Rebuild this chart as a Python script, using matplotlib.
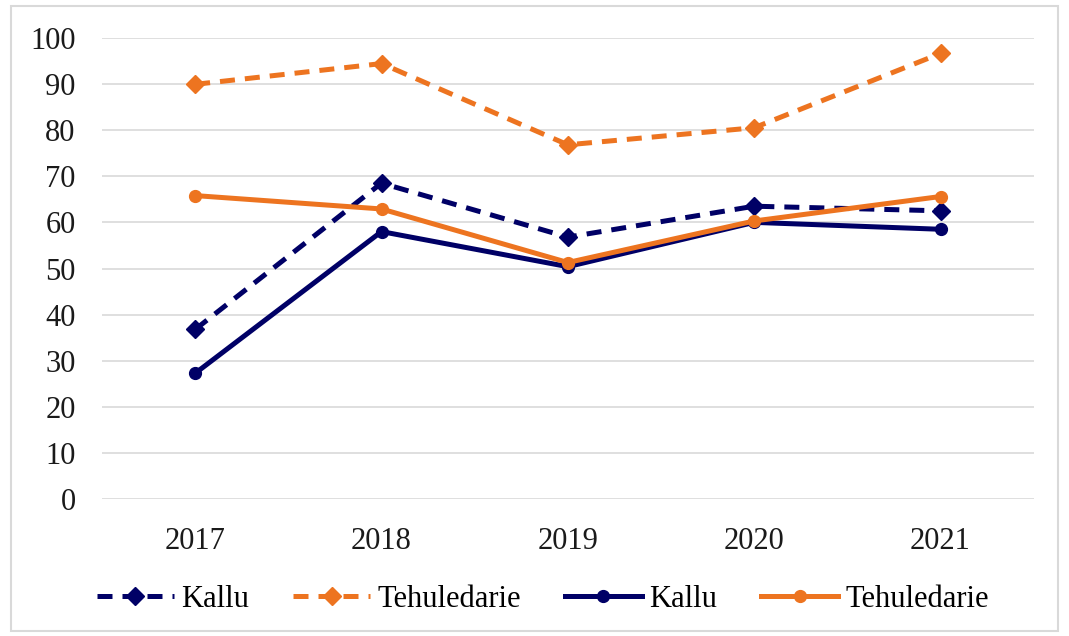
import matplotlib
matplotlib.use("Agg")
import matplotlib.pyplot as plt
from matplotlib.patches import Rectangle

# Data
years = ["2017", "2018", "2019", "2020", "2021"]
kallu_dashed = [36.8, 68.5, 56.8, 63.5, 62.5]
tehul_dashed = [89.9, 94.4, 76.8, 80.5, 96.6]
kallu_solid = [27.3, 58.0, 50.4, 60.0, 58.5]
tehul_solid = [65.8, 62.9, 51.3, 60.3, 65.6]
series_names = ["Kallu", "Tehuledarie", "Kallu", "Tehuledarie"]
y_ticks = list(range(0, 101, 10))

NAVY = "#000066"
ORANGE = "#ED7420"
FS = 22

plt.rcParams["font.family"] = ["Liberation Serif", "DejaVu Serif"]

fig = plt.figure(figsize=(10.69, 6.36), dpi=100)
ax = fig.add_axes([0.0954, 0.2149, 0.8716, 0.7258])

x = range(len(years))
dash = (3, 2)
lw = 3.6
ax.plot(x, kallu_dashed, color=NAVY, lw=lw, ls=(0, dash), marker="D", ms=9,
        label=series_names[0])
ax.plot(x, tehul_dashed, color=ORANGE, lw=lw, ls=(0, dash), marker="D", ms=9,
        label=series_names[1])
ax.plot(x, kallu_solid, color=NAVY, lw=lw, marker="o", ms=8.5, label=series_names[2])
ax.plot(x, tehul_solid, color=ORANGE, lw=lw, marker="o", ms=8.5, label=series_names[3])

ax.set_xlim(-0.5, len(years) - 0.5)
ax.set_ylim(0, 100)
ax.set_xticks(list(x))
ax.set_xticklabels(years)
ax.set_yticks(y_ticks)
ax.tick_params(axis="both", length=0, labelsize=FS, colors="#1a1a1a")
ax.tick_params(axis="x", pad=20)
ax.tick_params(axis="y", pad=19)
ax.yaxis.grid(True, color="#d9d9d9", lw=1.2)
ax.set_axisbelow(True)
for s in ax.spines.values():
    s.set_visible(False)

fig.legend(loc="center", bbox_to_anchor=(0.508, 0.058), ncol=4, frameon=False,
           fontsize=FS, handlelength=2.5, handletextpad=0.25, columnspacing=1.45)

# light grey frame around the whole chart
fig.patches.append(Rectangle((0.0105, 0.008), 0.979, 0.983, transform=fig.transFigure,
                             fill=False, edgecolor="#d9d9d9", lw=1.5))

fig.savefig("out.png", dpi=100)
